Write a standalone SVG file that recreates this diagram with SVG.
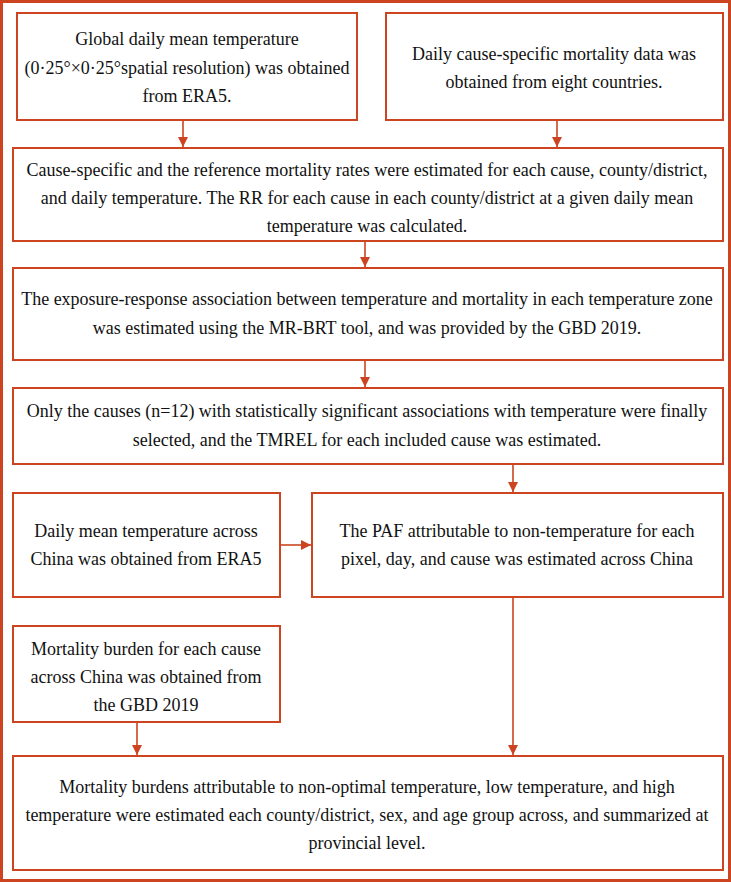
<svg xmlns="http://www.w3.org/2000/svg" width="731" height="882" viewBox="0 0 731 882">
<defs>
<style>
.b{fill:#fff;stroke:#CC4420;stroke-width:2}
.t{font-family:"Liberation Serif","Times New Roman",serif;font-size:18px;fill:#111;text-anchor:middle}
.c{stroke:#CC4420;stroke-width:1.6;fill:none;marker-end:url(#ah)}
</style>
<marker id="ah" markerWidth="10" markerHeight="10" refX="10" refY="5" orient="auto" markerUnits="userSpaceOnUse">
<path d="M0,0 L10,5 L0,10 Z" fill="#CC4420"/>
</marker>
</defs>
<rect x="0" y="0" width="731" height="882" fill="#fff"/>
<rect x="1.5" y="1.5" width="728" height="879" fill="none" stroke="#CC4420" stroke-width="3"/>
<g id="n1"><rect class="b" x="17" y="13" width="340" height="107"/>
<text class="t" x="187" y="45">Global daily mean temperature</text>
<text class="t" x="187" y="74">(0·25°×0·25°spatial resolution) was obtained</text>
<text class="t" x="187" y="102">from ERA5.</text></g>
<g id="n2"><rect class="b" x="386" y="13" width="337" height="107"/>
<text class="t" x="554" y="60">Daily cause-specific mortality data was</text>
<text class="t" x="554" y="88">obtained from eight countries.</text></g>
<g id="n3"><rect class="b" x="13" y="148" width="710" height="93"/>
<text class="t" x="367" y="176">Cause-specific and the reference mortality rates were estimated for each cause, county/district,</text>
<text class="t" x="367" y="204">and daily temperature. The RR for each cause in each county/district at a given daily mean</text>
<text class="t" x="367" y="232">temperature was calculated.</text></g>
<g id="n4"><rect class="b" x="13" y="268" width="710" height="92"/>
<text class="t" x="367" y="305">The exposure-response association between temperature and mortality in each temperature zone</text>
<text class="t" x="367" y="334">was estimated using the MR-BRT tool, and was provided by the GBD 2019.</text></g>
<g id="n5"><rect class="b" x="13" y="388" width="710" height="76"/>
<text class="t" x="367" y="417">Only the causes (n=12) with statistically significant associations with temperature were finally</text>
<text class="t" x="367" y="446">selected, and the TMREL for each included cause was estimated.</text></g>
<g id="n6"><rect class="b" x="13" y="493" width="267" height="104"/>
<text class="t" x="146" y="537">Daily mean temperature across</text>
<text class="t" x="146" y="565">China was obtained from ERA5</text></g>
<g id="n7"><rect class="b" x="312" y="493" width="411" height="104"/>
<text class="t" x="517" y="537">The PAF attributable to non-temperature for each</text>
<text class="t" x="517" y="565">pixel, day, and cause was estimated across China</text></g>
<g id="n8"><rect class="b" x="13" y="626" width="267" height="96"/>
<text class="t" x="146" y="655">Mortality burden for each cause</text>
<text class="t" x="146" y="683">across China was obtained from</text>
<text class="t" x="146" y="711">the GBD 2019</text></g>
<g id="n9"><rect class="b" x="13" y="756" width="710" height="114"/>
<text class="t" x="367" y="793">Mortality burdens attributable to non-optimal temperature, low temperature, and high</text>
<text class="t" x="367" y="821">temperature were estimated each county/district, sex, and age group across, and summarized at</text>
<text class="t" x="367" y="849">provincial level.</text></g>
<g id="connectors">
<line class="c" x1="183" y1="120" x2="183" y2="147"/>
<line class="c" x1="557" y1="120" x2="557" y2="147"/>
<line class="c" x1="365" y1="241" x2="365" y2="267"/>
<line class="c" x1="365" y1="360" x2="365" y2="387"/>
<line class="c" x1="513" y1="464" x2="513" y2="492"/>
<line class="c" x1="280" y1="545" x2="311" y2="545"/>
<line class="c" x1="137" y1="722" x2="137" y2="755"/>
<line class="c" x1="513" y1="597" x2="513" y2="755"/>
</g>
</svg>
